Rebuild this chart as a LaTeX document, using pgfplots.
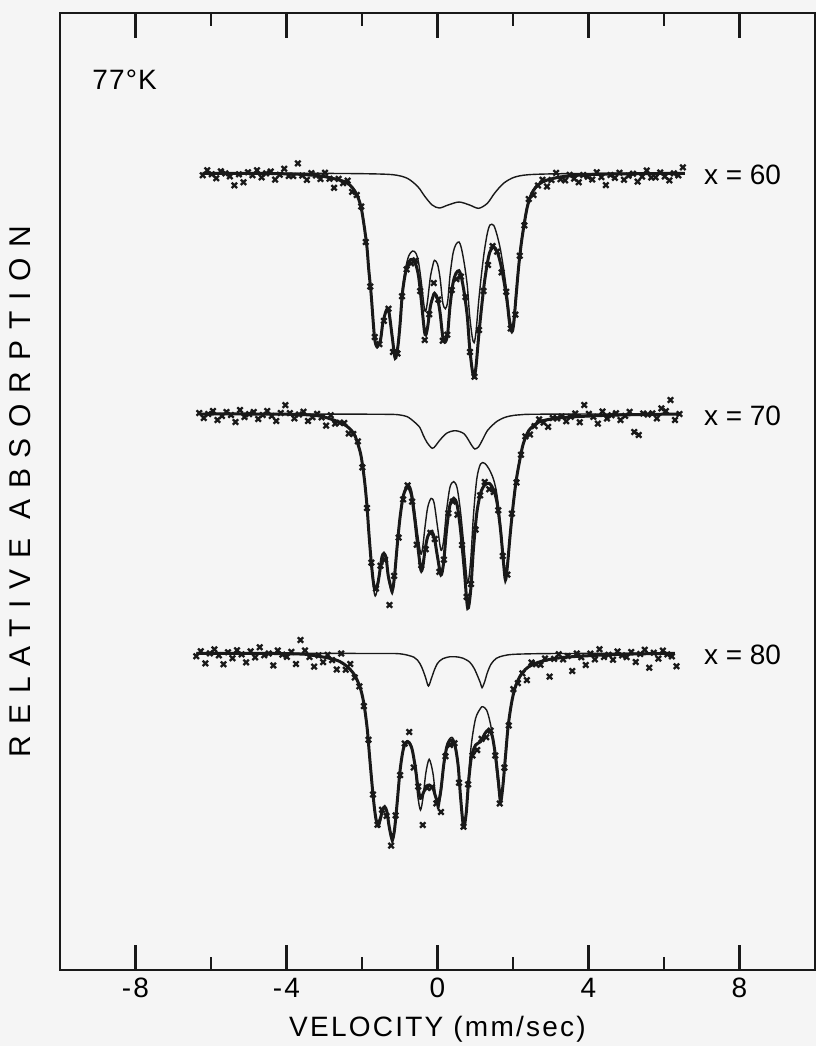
\documentclass[border=0pt]{standalone}
\usepackage{pgfplots}
\pgfplotsset{compat=1.18}
\usepackage{fontspec}
\setmainfont{Liberation Sans}
\newfontfamily\lsA[LetterSpace=8]{Liberation Sans}
\newfontfamily\lsB[LetterSpace=36]{Liberation Sans}
\newfontfamily\lsC[LetterSpace=4]{Liberation Sans}
\begin{document}
\begin{tikzpicture}
\fill[black!4] (-30pt,-38pt) rectangle (378pt,485pt);
\path[use as bounding box] (-30pt,-38pt) rectangle (378pt,485pt);
\begin{axis}[
  at={(0,0)}, anchor=south west,
  scale only axis, width=377.5pt, height=478.5pt,
  xmin=-10, xmax=10, ymin=13, ymax=970, y dir=reverse,
  axis line style={line width=1.3pt, black!90},
  xtick={-8,-4,0,4,8}, xticklabels={-8,-4,0,4,8},
  minor xtick={-6,-2,2,6},
  ytick=\empty,
  tick align=inside, xtick pos=both,
  major tick length=12.5pt, minor tick length=6.5pt,
  tick style={line width=1.1pt, black!90},
  xticklabel style={font=\lsA\fontsize{14}{16}\selectfont, anchor=base, inner sep=0pt, yshift=-13.5pt},
  xlabel={VELOCITY (mm/sec)},
  ylabel={RELATIVE ABSORPTION},
  every axis x label/.style={at={(axis description cs:0.5,0)}, anchor=base, yshift=-33pt, font=\lsA\fontsize{14}{16}\selectfont},
  every axis y label/.style={at={(axis description cs:0,0.5)}, rotate=90, anchor=center, yshift=20pt, font=\lsB\fontsize{15}{18}\selectfont},
]
% ---------- x = 60 ----------
\addplot[black!90, line width=0.7pt, smooth] coordinates {(-6.22,173.3) (-4.5,173.3) (-3,173.4) (-1.94,173.7) (-1.18,174.7) (-0.80,178.3) (-0.52,186.7) (-0.33,196.7) (-0.14,205) (0.05,208) (0.28,205) (0.57,202) (0.85,205) (1.09,208.3) (1.32,203.3) (1.51,193.3) (1.75,183.3) (2.03,177.3) (2.41,174.7) (3.26,173.7) (4.5,173.4) (6.55,173.3)};
\addplot[black!90, line width=0.7pt, smooth] coordinates {(-6.22,173.3) (-4.78,173.3) (-3.83,174) (-3.36,175) (-3.07,176) (-2.79,178.3) (-2.51,181) (-2.32,185) (-2.18,191.7) (-2.08,200) (-2.01,210) (-1.94,226.7) (-1.87,246.7) (-1.82,270) (-1.76,293.3) (-1.70,323.3) (-1.66,341) (-1.60,348) (-1.51,340) (-1.45,322.6) (-1.37,310.9) (-1.33,308.4) (-1.28,312.2) (-1.20,335.4) (-1.12,357) (-1.05,344.5) (-0.99,320.6) (-0.93,289.8) (-0.85,269) (-0.76,255.7) (-0.66,251) (-0.57,253.3) (-0.50,262.7) (-0.43,281.7) (-0.35,307.7) (-0.31,311) (-0.26,300) (-0.19,277.4) (-0.12,264.7) (-0.08,260.3) (0.00,264) (0.07,278.6) (0.14,302.7) (0.21,308.7) (0.27,301.3) (0.33,276) (0.41,253.6) (0.49,244.3) (0.57,242) (0.63,247.7) (0.71,263.6) (0.79,286) (0.85,315) (0.92,337) (0.97,342.7) (1.02,332) (1.09,301.7) (1.16,276) (1.24,251.3) (1.32,233.3) (1.39,225) (1.49,225.4) (1.58,235.4) (1.67,250) (1.77,273.6) (1.85,296) (1.91,317) (1.97,326.4) (2.02,318.6) (2.08,292.7) (2.15,263.4) (2.22,240.6) (2.30,221.1) (2.38,205) (2.48,193.7) (2.60,186.3) (2.79,181) (3.08,178) (3.45,176) (4.21,174.3) (5.16,173.7) (6.55,173.3)};
\addplot[black!90, line width=1.5pt, smooth] coordinates {(-6.22,173.3) (-4.78,173.3) (-3.83,174) (-3.36,175) (-3.07,176) (-2.79,178.3) (-2.51,181) (-2.32,185) (-2.18,191.7) (-2.08,200) (-2.01,210) (-1.94,226.7) (-1.87,246.7) (-1.82,270) (-1.76,293.3) (-1.70,323.3) (-1.66,340) (-1.60,346.7) (-1.51,340) (-1.45,323.3) (-1.37,311.7) (-1.33,309.3) (-1.28,313.3) (-1.20,336.7) (-1.12,358.3) (-1.05,346.7) (-0.99,323.3) (-0.93,293.3) (-0.85,273.3) (-0.76,261.7) (-0.66,259.3) (-0.57,265) (-0.50,276.7) (-0.43,300) (-0.35,330) (-0.31,335) (-0.26,326.7) (-0.19,306.7) (-0.12,296.7) (-0.08,293.3) (0.00,298.3) (0.07,313.3) (0.14,336.7) (0.21,341.7) (0.27,333.3) (0.33,306.7) (0.41,283.3) (0.49,273.3) (0.57,270.7) (0.63,276.7) (0.71,293.3) (0.79,316.7) (0.85,346.7) (0.92,370) (0.97,376.7) (1.02,366.7) (1.09,336.7) (1.16,310) (1.24,283.3) (1.32,263.3) (1.39,251.7) (1.49,246.7) (1.58,251.7) (1.67,263.3) (1.77,283.3) (1.85,303.3) (1.91,323.3) (1.97,331.7) (2.02,323.3) (2.08,296.7) (2.15,266.7) (2.22,243.3) (2.30,223.3) (2.38,206.7) (2.48,195) (2.60,187.3) (2.79,181.7) (3.08,178.3) (3.45,176) (4.21,174.3) (5.16,173.7) (6.55,173.3)};
\addplot[only marks, mark=x, mark size=1.9pt, mark options={line width=1.15pt, black!90}] coordinates {(-6.22,175.3) (-6.10,170.3) (-5.98,174.3) (-5.86,178.3) (-5.74,171.3) (-5.62,173.3) (-5.50,176.3) (-5.38,185.3) (-5.26,174.3) (-5.14,182.3) (-5.02,172.3) (-4.90,175.3) (-4.78,170.3) (-4.66,177.3) (-4.54,173.3) (-4.42,171.5) (-4.30,179.6) (-4.18,174.7) (-4.06,168.8) (-3.94,175.9) (-3.82,176) (-3.70,163.3) (-3.58,175.5) (-3.46,179.8) (-3.34,173.1) (-3.22,175.5) (-3.10,178.9) (-2.98,172.7) (-2.86,178.7) (-2.74,187.8) (-2.62,178.9) (-2.50,183.2) (-2.38,180.7) (-2.26,191.9) (-2.14,195) (-2.02,206.6) (-1.90,242) (-1.78,286.5) (-1.66,337) (-1.54,344) (-1.42,320.9) (-1.30,308.7) (-1.18,352) (-1.06,353.4) (-0.94,296.3) (-0.82,269.4) (-0.70,263.3) (-0.58,260.4) (-0.46,291) (-0.34,340) (-0.22,314.3) (-0.10,283) (0.02,299.6) (0.14,340.7) (0.26,334.7) (0.38,290) (0.50,279) (0.62,276.7) (0.74,297) (0.86,352) (0.98,376.7) (1.10,329.9) (1.22,291) (1.34,265) (1.46,246) (1.58,251.7) (1.70,272.3) (1.82,291.8) (1.94,328.5) (2.06,314.6) (2.18,255.7) (2.30,225.3) (2.42,199) (2.54,195) (2.66,185.5) (2.78,179.8) (2.90,186.4) (3.02,179.9) (3.14,172.9) (3.26,179.2) (3.38,180.4) (3.50,174.9) (3.62,178.6) (3.74,182.3) (3.86,175) (3.98,176.8) (4.10,179.5) (4.22,172.3) (4.34,177.2) (4.46,185.1) (4.58,175) (4.70,177.9) (4.82,172.8) (4.94,179.8) (5.06,175.7) (5.18,173.7) (5.30,181.6) (5.42,176.6) (5.54,170.5) (5.66,177.5) (5.78,177.4) (5.90,172.4) (6.02,176.4) (6.14,180.4) (6.26,173.4) (6.38,175.4) (6.50,167.3)};
% ---------- x = 70 ----------
\addplot[black!90, line width=0.7pt, smooth] coordinates {(-6.31,414) (-4.5,414) (-2.8,414.1) (-1.8,414.2) (-1.18,414.4) (-0.99,415) (-0.80,416.7) (-0.62,421.7) (-0.47,427.3) (-0.38,435) (-0.28,442.3) (-0.14,448.3) (-0.05,445.7) (0.05,440.7) (0.24,433.3) (0.47,430.7) (0.71,434) (0.90,445) (0.99,449) (1.09,446.7) (1.18,440.7) (1.32,430.7) (1.47,424.7) (1.56,421.7) (1.70,418.7) (1.84,416.7) (2.03,415.3) (2.22,414.7) (2.41,414.3) (3.2,414.1) (4.5,414) (6.39,414)};
\addplot[black!90, line width=0.7pt, smooth] coordinates {(-6.31,414) (-4.78,414) (-3.83,414.3) (-3.36,415) (-3.07,416.3) (-2.70,420.7) (-2.41,426) (-2.22,433.3) (-2.13,441.7) (-2.03,455) (-1.94,478.3) (-1.87,505) (-1.82,532) (-1.76,562) (-1.70,586) (-1.65,596) (-1.58,587) (-1.51,568) (-1.47,557) (-1.42,553.3) (-1.36,559) (-1.30,579) (-1.20,594) (-1.14,578) (-1.07,546) (-0.99,515.7) (-0.90,493.3) (-0.79,484.3) (-0.69,490) (-0.60,511.7) (-0.52,535.7) (-0.44,554) (-0.39,546.7) (-0.33,526.7) (-0.26,507.4) (-0.17,498.4) (-0.09,503) (0.00,526.7) (0.09,550) (0.16,541.3) (0.24,510.7) (0.33,487.3) (0.43,481.6) (0.52,488) (0.61,511.7) (0.71,550) (0.80,583) (0.88,560) (0.95,516.7) (1.04,479) (1.14,464) (1.25,463.3) (1.37,469.3) (1.49,480) (1.58,496) (1.67,524.7) (1.75,559.3) (1.80,576.7) (1.85,564) (1.92,534.7) (1.99,508.3) (2.08,480.4) (2.18,459) (2.27,443.3) (2.41,430.7) (2.60,424) (2.79,420.7) (3.26,417.7) (4.21,415.7) (5.16,414.7) (6.39,414)};
\addplot[black!90, line width=1.5pt, smooth] coordinates {(-6.31,414) (-4.78,414) (-3.83,414.3) (-3.36,415) (-3.07,416.3) (-2.70,420.7) (-2.41,426) (-2.22,433.3) (-2.13,441.7) (-2.03,455) (-1.94,478.3) (-1.87,505) (-1.82,531.7) (-1.76,560) (-1.70,581.7) (-1.65,589.3) (-1.58,583.3) (-1.51,566.7) (-1.47,556.7) (-1.42,553.3) (-1.36,558.3) (-1.30,576.7) (-1.20,590) (-1.14,576.7) (-1.07,546.7) (-0.99,516.7) (-0.90,495) (-0.79,487.3) (-0.69,495) (-0.60,520) (-0.52,546.7) (-0.44,570) (-0.39,566.7) (-0.33,550) (-0.26,536.7) (-0.17,531.7) (-0.09,536.7) (0.00,556.7) (0.09,575) (0.16,563.3) (0.24,530) (0.33,505) (0.43,498.3) (0.52,505) (0.61,530) (0.71,570) (0.80,608.3) (0.88,590) (0.95,550) (1.04,513.3) (1.14,493.3) (1.25,485) (1.37,483.3) (1.49,490) (1.58,503.3) (1.67,530) (1.75,563.3) (1.80,580) (1.85,566.7) (1.92,536.7) (1.99,510) (2.08,481.7) (2.18,460) (2.27,444) (2.41,431) (2.60,424) (2.79,420.7) (3.26,417.7) (4.21,415.7) (5.16,414.7) (6.39,414)};
\addplot[only marks, mark=x, mark size=1.9pt, mark options={line width=1.15pt, black!90}] coordinates {(-6.31,413) (-6.19,418) (-6.07,414) (-5.95,411) (-5.83,420) (-5.71,416) (-5.59,412) (-5.47,415) (-5.35,422) (-5.23,410) (-5.11,417) (-4.99,414) (-4.87,412) (-4.75,419) (-4.63,415) (-4.51,411) (-4.39,416) (-4.27,421) (-4.15,413) (-4.03,405) (-3.91,413.2) (-3.79,418.4) (-3.67,414.5) (-3.55,411.7) (-3.43,420.9) (-3.31,417.2) (-3.19,413.8) (-3.07,417.3) (-2.95,425.7) (-2.83,415.2) (-2.71,423.6) (-2.59,422.7) (-2.47,422.9) (-2.35,433.5) (-2.23,434) (-2.11,441.4) (-1.99,467.4) (-1.87,508) (-1.75,562.6) (-1.63,588.4) (-1.51,565.7) (-1.39,559.8) (-1.27,605) (-1.15,575.9) (-1.03,537.7) (-0.91,499.4) (-0.79,485.3) (-0.67,501.6) (-0.55,544.7) (-0.43,565.3) (-0.31,549.2) (-0.19,532.8) (-0.07,539) (0.05,571.9) (0.17,559.6) (0.29,513.1) (0.41,501.6) (0.53,514.8) (0.65,545) (0.77,596.8) (0.89,584) (1.01,529.7) (1.13,495.3) (1.25,482) (1.37,489.3) (1.49,492) (1.61,510.2) (1.73,556) (1.85,574.7) (1.97,513.6) (2.09,482.5) (2.21,454.7) (2.33,436.4) (2.45,434.5) (2.57,426.1) (2.69,419.4) (2.81,422.6) (2.93,426.8) (3.05,418) (3.17,418.3) (3.29,416.5) (3.41,421.2) (3.53,416.8) (3.65,413.5) (3.77,422.2) (3.89,405) (4.01,413.9) (4.13,416.8) (4.25,423.6) (4.37,411.5) (4.49,418.4) (4.61,415.3) (4.73,413.2) (4.85,420) (4.97,415.9) (5.09,411.8) (5.21,432) (5.33,435) (5.45,413.6) (5.57,414.5) (5.69,413.4) (5.81,418.4) (5.93,408.3) (6.05,411.2) (6.17,400) (6.29,420) (6.41,414)};
% ---------- x = 80 ----------
\addplot[black!90, line width=0.7pt, smooth] coordinates {(-6.39,653.3) (-4.5,653.3) (-2.8,653.4) (-1.6,653.5) (-0.99,653.8) (-0.62,657.3) (-0.47,663.3) (-0.38,670.7) (-0.31,678.3) (-0.24,686) (-0.16,678.3) (-0.09,670.7) (0.00,663.3) (0.14,658.7) (0.33,656.7) (0.47,656.7) (0.66,658) (0.85,662) (0.97,668.3) (1.07,676.7) (1.14,683.3) (1.18,687.7) (1.25,681.7) (1.32,672.7) (1.42,664) (1.56,658.3) (1.75,655.7) (2.03,654.3) (2.79,653.6) (4.2,653.4) (6.29,653.3)};
\addplot[black!90, line width=0.7pt, smooth] coordinates {(-6.39,653.3) (-4.78,653.3) (-3.64,654) (-3.36,655) (-2.89,658) (-2.60,661.3) (-2.37,667.3) (-2.18,676) (-2.03,690) (-1.94,706) (-1.86,729.3) (-1.80,756) (-1.73,786) (-1.67,809) (-1.62,823.3) (-1.56,827.3) (-1.50,820) (-1.46,811.7) (-1.40,806.7) (-1.34,812.7) (-1.28,828.3) (-1.20,842.7) (-1.14,831.7) (-1.07,804) (-0.99,770) (-0.90,747.3) (-0.79,740.7) (-0.68,746.7) (-0.59,770) (-0.52,796.7) (-0.45,810) (-0.38,796.7) (-0.31,773.3) (-0.22,759.3) (-0.12,773.3) (-0.05,796.7) (0.02,809.3) (0.09,793.3) (0.17,765) (0.26,743.3) (0.38,737.3) (0.47,744.3) (0.55,765) (0.61,796.7) (0.69,826) (0.76,811.7) (0.82,776.7) (0.90,743.3) (1.01,718.3) (1.14,708.3) (1.20,706.7) (1.30,710) (1.39,721.7) (1.49,743.3) (1.56,770) (1.63,793.3) (1.67,801.7) (1.73,786.7) (1.80,756.7) (1.87,726.7) (1.96,703.3) (2.05,688.3) (2.18,676.7) (2.36,668.3) (2.60,663.3) (2.89,660) (3.36,657.3) (4.21,655.3) (5.16,654) (6.29,653.3)};
\addplot[black!90, line width=1.5pt, smooth] coordinates {(-6.39,653.3) (-4.78,653.3) (-3.64,654) (-3.36,655) (-2.89,658) (-2.60,661.3) (-2.37,667.3) (-2.18,676) (-2.03,690) (-1.94,706) (-1.86,729.3) (-1.80,756) (-1.73,786) (-1.67,808.3) (-1.62,820.7) (-1.56,822.7) (-1.50,816.7) (-1.46,810) (-1.40,806.7) (-1.34,811.7) (-1.28,826.7) (-1.20,839.3) (-1.14,830) (-1.07,803.3) (-0.99,770) (-0.90,748.3) (-0.79,741.7) (-0.68,748.3) (-0.59,766.7) (-0.52,786.7) (-0.45,798.3) (-0.38,793.3) (-0.30,786.7) (-0.22,785) (-0.12,788.3) (-0.05,796.7) (0.02,802.7) (0.09,790) (0.17,763.3) (0.26,745) (0.38,740) (0.47,746.7) (0.55,766.7) (0.61,796.7) (0.69,826.7) (0.76,813.3) (0.82,783.3) (0.90,756.7) (1.01,745) (1.14,741.7) (1.26,733.3) (1.35,730) (1.45,736) (1.54,756.7) (1.61,780) (1.67,801.7) (1.73,786.7) (1.80,756.7) (1.87,726.7) (1.96,703.3) (2.05,688.3) (2.18,676.7) (2.36,668.3) (2.60,663.3) (2.89,660) (3.36,657.3) (4.21,655.3) (5.16,654) (6.29,653.3)};
\addplot[only marks, mark=x, mark size=1.9pt, mark options={line width=1.15pt, black!90}] coordinates {(-6.39,656.3) (-6.27,651.3) (-6.15,663.3) (-6.03,653.3) (-5.91,649.3) (-5.79,655.3) (-5.67,664.3) (-5.55,652.3) (-5.43,658.3) (-5.31,650.3) (-5.19,654.3) (-5.07,662.3) (-4.95,651.3) (-4.83,657.3) (-4.71,647.3) (-4.59,655.3) (-4.47,653.4) (-4.35,665.4) (-4.23,650.5) (-4.11,654.6) (-3.99,656.8) (-3.87,651.9) (-3.75,664) (-3.63,640) (-3.51,650.5) (-3.39,656.9) (-3.27,666.6) (-3.15,655.3) (-3.03,662) (-2.91,654.9) (-2.79,660.1) (-2.67,669.5) (-2.55,653.6) (-2.43,669.7) (-2.31,664) (-2.19,677.5) (-2.07,686.3) (-1.95,706.2) (-1.83,739.7) (-1.71,794.5) (-1.59,824.7) (-1.47,809.7) (-1.35,815.9) (-1.23,845.6) (-1.11,815.4) (-0.99,775) (-0.87,743.5) (-0.75,732) (-0.63,767.5) (-0.51,786.4) (-0.39,825) (-0.27,788) (-0.15,787.3) (-0.03,803.4) (0.09,812) (0.21,756.2) (0.33,745) (0.45,743.2) (0.57,782.7) (0.69,826.7) (0.81,784.3) (0.93,755.5) (1.05,750) (1.17,738.8) (1.29,737.2) (1.41,730.6) (1.53,755.4) (1.65,803.5) (1.77,767.6) (1.89,725.5) (2.01,689) (2.13,683.2) (2.25,673.4) (2.37,680.1) (2.49,662.6) (2.61,664.2) (2.73,664.8) (2.85,658.5) (2.97,676.5) (3.09,658.8) (3.21,654.2) (3.33,659.4) (3.45,656) (3.57,671) (3.69,653.5) (3.81,657.2) (3.93,665) (4.05,653.7) (4.17,659.4) (4.29,649.2) (4.41,657) (4.53,654.8) (4.65,659.7) (4.77,651.5) (4.89,655.4) (5.01,657.2) (5.13,652) (5.25,662) (5.37,653.9) (5.49,649.8) (5.61,667.7) (5.73,652.7) (5.85,658.6) (5.97,650.5) (6.09,654.4) (6.21,656.3) (6.33,666.3)};
% ---------- annotations ----------
\node[anchor=west, inner sep=0pt, font=\lsC\fontsize{14}{16}\selectfont] at (axis cs:-9.15,80) {77°K};
\node[anchor=west, inner sep=0pt, font=\fontsize{14}{16}\selectfont] at (axis cs:7.05,175) {x = 60};
\node[anchor=west, inner sep=0pt, font=\fontsize{14}{16}\selectfont] at (axis cs:7.05,416) {x = 70};
\node[anchor=west, inner sep=0pt, font=\fontsize{14}{16}\selectfont] at (axis cs:7.05,655) {x = 80};
\end{axis}
\end{tikzpicture}
\end{document}
